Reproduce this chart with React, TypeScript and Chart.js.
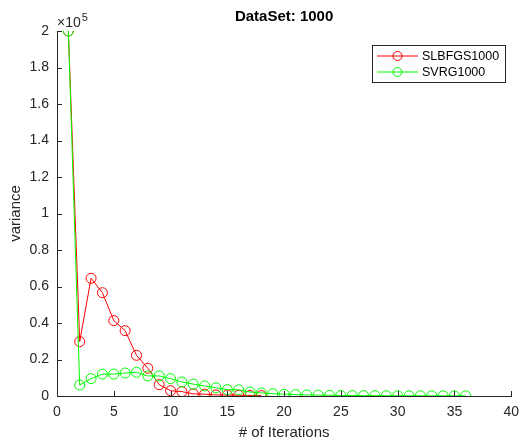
import React, { useEffect, useRef } from "react";
import { Chart, registerables } from "chart.js";

Chart.register(...registerables);

const chartTitle = "DataSet: 1000";
const xLabel = "# of Iterations";
const yLabel = "variance";
const seriesNames = ["SLBFGS1000", "SVRG1000"];

const slbfgsIterations = [1, 2, 3, 4, 5, 6, 7, 8, 9, 10, 11, 12, 13, 14, 15, 16, 17, 18];
const slbfgsValues = [
  200000, 29800, 64500, 56600, 41300, 35800, 22300, 15200, 6200, 2900, 2400, 1200, 1000, 600, 500, 400, 300, 200,
];

const svrgIterations = [
  1, 2, 3, 4, 5, 6, 7, 8, 9, 10, 11, 12, 13, 14, 15, 16, 17, 18, 19, 20, 21, 22, 23, 24, 25, 26, 27, 28, 29, 30, 31, 32,
  33, 34, 35, 36,
];
const svrgValues = [
  200000, 6000, 9500, 12000, 12000, 12600, 13000, 11000, 11000, 9500, 7700, 6500, 5500, 4500, 3500, 3400, 2200, 1700,
  1300, 1000, 800, 600, 500, 400, 300, 250, 200, 200, 150, 150, 120, 100, 100, 100, 100, 100,
];

const xTickValues = [0, 5, 10, 15, 20, 25, 30, 35, 40];
const yTickValues = [0, 20000, 40000, 60000, 80000, 100000, 120000, 140000, 160000, 180000, 200000];

const RED = "#ff0000";
const GREEN = "#00ff00";
const AXIS = "#262626";
const FONT = "'Liberation Sans', Arial, Helvetica, sans-serif";

const decorPlugin = {
  id: "matlabDecor",
  afterDraw(chart: any) {
    const ctx = chart.ctx as CanvasRenderingContext2D;
    const area = chart.chartArea;
    const xs = chart.scales.x;
    const ys = chart.scales.y;
    ctx.save();
    // inward ticks
    ctx.strokeStyle = AXIS;
    ctx.lineWidth = 1;
    ctx.beginPath();
    xTickValues.forEach((v) => {
      const px = Math.round(xs.getPixelForValue(v)) + 0.5;
      ctx.moveTo(px, area.bottom);
      ctx.lineTo(px, area.bottom - 5);
    });
    yTickValues.forEach((v) => {
      const py = Math.round(ys.getPixelForValue(v)) + 0.5;
      ctx.moveTo(area.left, py);
      ctx.lineTo(area.left + 5, py);
    });
    ctx.stroke();

    // title
    ctx.fillStyle = "#000000";
    ctx.font = `bold 15px ${FONT}`;
    ctx.textAlign = "center";
    ctx.textBaseline = "middle";
    ctx.fillText(chartTitle, (area.left + area.right) / 2, 17);

    // x label
    ctx.fillStyle = AXIS;
    ctx.font = `15px ${FONT}`;
    ctx.fillText(xLabel, (area.left + area.right) / 2, 433);

    // y label
    ctx.save();
    ctx.translate(16, (area.top + area.bottom) / 2);
    ctx.rotate(-Math.PI / 2);
    ctx.fillText(yLabel, 0, 0);
    ctx.restore();

    // exponent
    ctx.textAlign = "left";
    ctx.textBaseline = "alphabetic";
    ctx.font = `14px ${FONT}`;
    ctx.fillText("\u00d710", area.left, 27);
    const w = ctx.measureText("\u00d710").width;
    ctx.font = `11px ${FONT}`;
    ctx.fillText("5", area.left + w + 1, 21);

    // legend
    const bx = 372.5, by = 45.5, bw = 133, bh = 37;
    ctx.fillStyle = "#ffffff";
    ctx.fillRect(bx, by, bw, bh);
    ctx.strokeStyle = AXIS;
    ctx.lineWidth = 1;
    ctx.strokeRect(bx, by, bw, bh);
    const colors = [RED, GREEN];
    const rows = [56, 72];
    ctx.font = `12.5px ${FONT}`;
    ctx.textBaseline = "middle";
    seriesNames.forEach((name, i) => {
      ctx.strokeStyle = colors[i];
      ctx.beginPath();
      ctx.moveTo(377, rows[i]);
      ctx.lineTo(418, rows[i]);
      ctx.stroke();
      ctx.beginPath();
      ctx.arc(397.5, rows[i], 4.5, 0, Math.PI * 2);
      ctx.stroke();
      ctx.fillStyle = "#000000";
      ctx.fillText(name, 422, rows[i] + 0.5);
    });
    ctx.restore();
  },
};

export default function App() {
  const canvasRef = useRef<HTMLCanvasElement | null>(null);

  useEffect(() => {
    if (!canvasRef.current) return;
    const redData = slbfgsIterations.map((x, i) => ({ x, y: slbfgsValues[i] }));
    const greenData = svrgIterations.map((x, i) => ({ x, y: svrgValues[i] }));
    const chart = new Chart(canvasRef.current, {
      type: "line",
      data: {
        datasets: [
          {
            label: seriesNames[0],
            data: redData,
            borderColor: RED,
            backgroundColor: "transparent",
            borderWidth: 1,
            pointRadius: 5,
            pointBorderWidth: 1,
            pointBorderColor: RED,
            pointBackgroundColor: "transparent",
            tension: 0,
            order: 1,
          },
          {
            label: seriesNames[1],
            data: greenData,
            borderColor: GREEN,
            backgroundColor: "transparent",
            borderWidth: 1,
            pointRadius: 5,
            pointBorderWidth: 1,
            pointBorderColor: GREEN,
            pointBackgroundColor: "transparent",
            tension: 0,
            order: 0,
          },
        ],
      },
      options: {
        responsive: false,
        animation: false,
        layout: { padding: { top: 31, right: 12, left: 0, bottom: 0 } },
        plugins: {
          legend: { display: false },
          title: { display: false },
          tooltip: { enabled: false },
        },
        scales: {
          x: {
            type: "linear",
            min: 0,
            max: 40,
            afterBuildTicks: (s: any) => {
              s.ticks = xTickValues.map((v) => ({ value: v }));
            },
            ticks: {
              color: AXIS,
              font: { family: FONT, size: 14 },
              padding: 8,
              maxRotation: 0,
            },
            grid: { display: true, drawOnChartArea: false, drawTicks: false },
            border: { display: true, color: AXIS, width: 1 },
            afterFit: (s: any) => {
              s.height = 47;
            },
          },
          y: {
            type: "linear",
            min: 0,
            max: 200000,
            afterBuildTicks: (s: any) => {
              s.ticks = yTickValues.map((v) => ({ value: v }));
            },
            ticks: {
              color: AXIS,
              font: { family: FONT, size: 14 },
              padding: 8,
              callback: (v: any) => String(parseFloat((Number(v) / 100000).toFixed(1))),
            },
            grid: { display: true, drawOnChartArea: false, drawTicks: false },
            border: { display: true, color: AXIS, width: 1 },
            afterFit: (s: any) => {
              s.width = 57;
            },
          },
        },
      },
      plugins: [decorPlugin],
    } as any);
    return () => chart.destroy();
  }, []);

  return (
    <div style={{ position: "absolute", left: 0, top: 0, width: 527, height: 443, background: "#ffffff" }}>
      <canvas ref={canvasRef} width={527} height={443} style={{ display: "block" }} />
    </div>
  );
}
